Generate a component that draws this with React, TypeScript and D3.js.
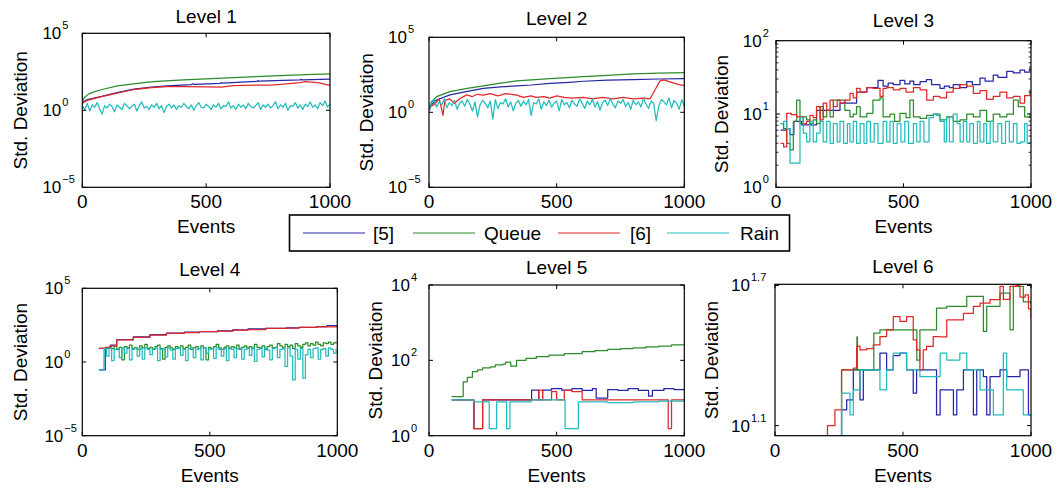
import React from 'react';
import * as d3 from 'd3';

// ---------- series identity ----------
const SERIES_NAMES = ['[5]', 'Queue', '[6]', 'Rain'];
const SERIES_COLORS = ['#2626a6', '#2a8c2a', '#e02828', '#22bcbc'];
const X_TICKS = [0, 500, 1000];

// ---------- Level 1 (values are log10 of std. deviation) ----------
const l1_b_x = [0, 20, 74, 140, 208, 280, 342, 440, 445, 450, 557, 560, 565, 705, 708, 712, 879, 882, 886, 1000];
const l1_b_e = [0.5, 0.7, 0.89, 1.15, 1.37, 1.5, 1.58, 1.66, 1.72, 1.68, 1.75, 1.8, 1.76, 1.88, 1.93, 1.89, 1.97, 2.02, 1.98, 2.03];
const l1_q_x = [0, 10, 25, 47, 80, 141, 200, 248, 300, 409, 500, 611, 700, 772, 850, 930, 1000];
const l1_q_e = [0.6, 0.85, 1.05, 1.2, 1.35, 1.58, 1.7, 1.8, 1.88, 1.97, 2.04, 2.12, 2.18, 2.23, 2.28, 2.33, 2.36];
const l1_r_x = [0, 20, 74, 140, 208, 280, 342, 409, 500, 560, 611, 700, 760, 800, 879, 900, 950, 1000];
const l1_r_e = [0.45, 0.65, 0.87, 1.12, 1.35, 1.48, 1.53, 1.53, 1.52, 1.5, 1.6, 1.63, 1.64, 1.68, 1.8, 1.86, 1.8, 1.62];
const l1_c_e = [
  0.30, 0.05, 0.45, -0.05, 0.35, 0.20, 0.50, 0.10, -0.25, 0.30,
  0.15, 0.40, 0.25, -0.10, 0.35, 0.20, 0.05, 0.45, 0.30, 0.10,
  0.25, 0.40, -0.05, 0.30, 0.55, 0.15, 0.25, 0.05, 0.35, 0.20,
  0.45, 0.10, 0.30, -0.15, 0.25, 0.40, 0.15, 0.35, 0.05, 0.30,
  0.20, 0.45, 0.25, 0.10, 0.35, 0.00, 0.30, 0.50, 0.20, 0.15,
  0.40, 0.25, 0.05, 0.35, 0.20, 0.45, 0.10, 0.30, 0.25, 0.55,
  0.15, 0.30, 0.05, 0.40, 0.20, 0.35, 0.10, 0.45, 0.25, 0.15,
  0.30, 0.50, 0.05, 0.35, 0.20, 0.40, 0.15, 0.30, 0.55, 0.10,
  0.35, 0.20, 0.45, 0.00, 0.30, 0.25, 0.50, 0.15, 0.35, 0.05,
  0.40, 0.25, 0.55, 0.20, 0.35, 0.10, 0.50, 0.30, 0.60, 0.20, 0.40,
];
const l1_c_x = l1_c_e.map((_, i) => i * 10);

// ---------- Level 2 ----------
const l2_b_x = [0, 10, 30, 82, 150, 213, 280, 343, 400, 474, 550, 604, 700, 800, 900, 1000];
const l2_b_e = [0.1, 0.5, 0.82, 1.16, 1.4, 1.6, 1.7, 1.76, 1.82, 1.93, 2.0, 2.07, 2.14, 2.18, 2.22, 2.24];
const l2_q_x = [0, 10, 30, 82, 150, 213, 280, 343, 474, 604, 700, 800, 900, 1000];
const l2_q_e = [0.3, 0.7, 1.04, 1.38, 1.6, 1.76, 1.95, 2.09, 2.24, 2.38, 2.46, 2.56, 2.61, 2.64];
const l2_r_x = [0, 20, 40, 55, 62, 80, 100, 120, 148, 170, 190, 213, 240, 270, 300, 343, 370, 400, 420, 450, 474, 500, 530, 560, 604, 640, 680, 720, 760, 800, 839, 866, 905, 920, 950, 980, 1000];
const l2_r_e = [0.4, 0.5, 0.9, -0.2, 0.8, 0.9, 0.6, 0.9, 1.16, 1.05, 1.2, 1.15, 1.25, 1.1, 1.25, 1.15, 1.0, 1.1, 1.0, 1.05, 0.95, 1.1, 1.0, 0.95, 1.0, 0.9, 1.0, 0.9, 1.0, 0.9, 0.95, 0.9, 2.1, 2.16, 2.0, 1.85, 1.78];
const l2_c_e = [
  0.16, 0.60, 0.85, 0.35, 0.70, 0.50, 0.90, 0.30, 0.65, 0.45,
  0.80, 0.20, 0.60, 0.75, 0.40, 0.85, 0.55, 0.10, 0.70, -0.30,
  0.50, 0.80, 0.60, 0.30, 0.75, -0.45, 0.85, 0.25, 0.65, 0.55,
  0.90, 0.35, 0.70, 0.10, 0.60, 0.80, 0.40, 0.75, 0.50, 0.85,
  -0.20, 0.65, 0.55, 0.90, 0.20, 0.70, 0.45, 0.80, 0.35, 0.60,
  0.75, 0.10, 0.85, 0.50, 0.65, 0.30, 0.80, 0.55, 0.40, 0.90,
  0.60, 0.25, 0.75, 0.50, 0.85, 0.35, 0.70, 0.15, 0.65, 0.80,
  0.45, 0.90, 0.55, 0.30, 0.75, 0.60, 0.85, 0.40, 0.65, 0.20,
  0.80, 0.50, 0.70, 0.35, 0.90, 0.55, 0.25, 0.75, 0.60, -0.55,
  0.40, 0.85, 0.70, 0.50, 0.95, 0.30, 0.80, 0.60, 0.20, 0.85, 0.40,
];
const l2_c_x = l2_c_e.map((_, i) => i * 10);

// ---------- Level 3 ----------
const l3_b_x = [18, 40, 55, 70, 100, 159, 199, 251, 316, 356, 400, 420, 440, 460, 486, 505, 525, 540, 565, 590, 610, 643, 660, 680, 695, 720, 748, 770, 800, 820, 852, 870, 905, 930, 957, 975, 996];
const l3_b_e = [0.78, 0.8, 0.72, 0.9, 0.85, 1.05, 1.05, 1.15, 1.3, 1.36, 1.46, 1.38, 1.42, 1.4, 1.46, 1.41, 1.45, 1.4, 1.44, 1.47, 1.4, 1.35, 1.38, 1.36, 1.4, 1.36, 1.44, 1.4, 1.49, 1.45, 1.53, 1.5, 1.58, 1.56, 1.6, 1.57, 1.65];
const l3_q_x = [18, 30, 42, 55, 68, 81, 94, 107, 120, 133, 146, 159, 173, 185, 199, 212, 225, 251, 270, 290, 303, 316, 330, 356, 380, 408, 420, 447, 465, 486, 510, 525, 539, 565, 591, 617, 643, 669, 695, 722, 748, 774, 800, 826, 852, 878, 905, 931, 950, 975, 996];
const l3_q_e = [0.87, 0.8, 0.6, 0.51, 0.9, 1.19, 0.87, 0.96, 0.92, 0.87, 0.92, 0.87, 1.1, 0.96, 1.05, 0.96, 1.19, 1.19, 1.05, 0.96, 1.0, 1.1, 0.96, 1.01, 1.19, 1.22, 0.96, 1.0, 0.9, 1.01, 0.95, 1.19, 0.96, 0.94, 0.98, 1.0, 0.92, 0.96, 0.9, 0.92, 1.0, 0.96, 1.05, 0.9, 1.0, 0.96, 1.0, 1.19, 1.1, 0.96, 1.01];
const l3_r_x = [18, 30, 42, 60, 81, 94, 107, 120, 133, 146, 159, 173, 185, 199, 212, 225, 240, 251, 270, 290, 303, 316, 330, 356, 380, 408, 420, 434, 460, 486, 510, 539, 565, 591, 617, 643, 669, 695, 722, 748, 774, 800, 826, 852, 878, 905, 931, 957, 975, 996];
const l3_r_e = [0.6, 0.55, 1.01, 0.99, 0.96, 0.96, 0.87, 0.9, 0.98, 0.95, 1.1, 0.92, 1.15, 1.05, 1.19, 1.1, 1.19, 1.15, 1.19, 1.28, 1.22, 1.35, 1.3, 1.36, 1.35, 1.24, 1.35, 1.36, 1.33, 1.35, 1.3, 1.36, 1.33, 1.19, 1.24, 1.22, 1.3, 1.35, 1.4, 1.38, 1.28, 1.32, 1.2, 1.24, 1.3, 1.22, 1.24, 1.15, 1.25, 1.33];
const l3_c_x = [18, 30, 42, 55, 70, 81, 94, 107, 120, 133, 146, 159, 173, 185, 199, 212, 225, 240, 251, 265, 280, 290, 303, 316, 330, 345, 356, 370, 385, 400, 420, 434, 447, 460, 475, 490, 505, 520, 539, 552, 565, 580, 600, 617, 630, 643, 660, 669, 680, 695, 710, 722, 735, 748, 760, 774, 790, 800, 815, 826, 840, 852, 870, 885, 900, 915, 931, 945, 960, 975, 985, 996];
const l3_c_e = [0.87, 0.9, 0.8, 0.33, 0.33, 0.33, 0.95, 0.74, 0.62, 0.9, 0.62, 0.74, 0.9, 0.62, 0.9, 0.6, 0.87, 0.62, 0.9, 0.6, 0.87, 0.62, 0.9, 0.6, 0.87, 0.6, 0.9, 0.62, 0.87, 0.6, 0.9, 0.62, 0.9, 0.6, 0.87, 0.62, 0.9, 0.6, 0.87, 0.62, 0.9, 0.62, 0.95, 1.0, 0.98, 0.9, 0.62, 0.95, 0.62, 1.0, 0.87, 0.62, 0.9, 0.62, 0.87, 0.6, 0.9, 0.62, 0.87, 0.6, 0.9, 0.62, 0.87, 0.6, 0.9, 0.62, 0.87, 0.6, 0.62, 0.87, 0.6, 0.62];

// ---------- Level 4 ----------
const l4_b_x = [65, 80, 90, 110, 135, 200, 265, 330, 400, 460, 530, 590, 650, 720, 800, 850, 920, 960, 1000];
const l4_b_e = [-0.54, -0.54, 0.93, 1.15, 1.52, 1.7, 1.85, 1.96, 2.02, 2.06, 2.12, 2.18, 2.25, 2.28, 2.32, 2.35, 2.4, 2.46, 2.44];
const l4_r_x = [65, 90, 110, 135, 200, 265, 330, 400, 460, 530, 590, 650, 720, 800, 850, 920, 1000];
const l4_r_e = [0.93, 1.0, 1.1, 1.5, 1.67, 1.83, 1.95, 2.0, 2.06, 2.1, 2.17, 2.2, 2.28, 2.3, 2.35, 2.38, 2.44];
const l4_q_e = [
  0.93, 0.93, 0.93, 0.93, 1.05, 0.90, 1.10, 0.85, 1.00, 0.15,
  1.05, 0.95, 1.15, 0.90, 1.00, 0.85, 1.10, 0.95, 1.20, 0.90,
  1.00, 0.85, 1.05, 1.15, 0.90, 0.20, 1.00, 1.10, 0.95, 0.85,
  1.05, 0.95, 1.10, 0.90, 1.00, 1.15, 0.85, 0.95, 1.05, 0.90,
  1.10, 0.95, 0.15, 1.00, 0.90, 1.05, 1.20, 0.95, 0.85, 1.00,
  1.10, 0.90, 1.05, 0.95, 1.15, 0.85, 1.00, 1.10, 0.95, 1.05,
  0.90, 1.20, 1.00, 0.95, 1.10, 0.85, 1.05, 1.15, 0.95, 1.00,
  1.25, 1.10, 0.95, 1.20, 1.05, 1.15, 0.90, 1.25, 1.10, 1.00,
  1.20, 1.30, 1.10, 1.25, 1.15, 1.35, 1.20, 1.10, 1.30, 1.25,
  1.35, 1.20, 1.30, 1.38,
];
const l4_q_x = l4_q_e.map((_, i) => 65 + i * 10);
const l4_c_e = [
  -0.54, -0.54, 0.90, 0.40, 0.95, 0.10, 0.85, 0.90, 0.30, 0.95,
  0.60, 0.90, 0.15, 0.85, 0.95, 0.40, 0.90, 0.20, 0.95, 0.85,
  0.50, 0.90, 0.95, 0.10, 0.85, 0.90, 0.35, 0.95, 0.80, 0.20,
  0.90, 0.95, 0.45, 0.85, 0.10, 0.90, 0.95, 0.30, 0.85, 0.90,
  0.15, 0.95, 0.60, 0.85, 0.90, 0.25, 0.95, 0.85, 0.40, 0.90,
  0.10, 0.95, 0.85, 0.30, 0.90, 0.95, 0.20, 0.85, 0.90, 0.45,
  0.95, 0.05, 0.85, 0.90, 0.35, 0.95, 0.80, 0.15, 0.90, 0.95,
  0.30, 0.85, 0.90, -0.30, 0.95, 0.40, -1.22, 0.85, 0.20, 0.90,
  -1.10, 0.50, 0.85, 0.30, 0.90, 0.95, 0.20, 0.85, 0.90, 0.40,
  0.95, 0.85, 0.60, 0.90,
];
const l4_c_x = l4_c_e.map((_, i) => 65 + i * 10);

// ---------- Level 5 ----------
const l5_b_x = [89, 170, 176, 200, 210, 400, 402, 420, 430, 445, 480, 520, 530, 560, 600, 640, 655, 700, 740, 780, 820, 860, 875, 920, 960, 1000];
const l5_b_e = [0.95, 0.95, 0.19, 0.19, 0.95, 0.95, 1.21, 1.21, 0.95, 1.21, 1.25, 1.21, 1.21, 1.25, 1.2, 1.25, 1.0, 1.22, 1.2, 1.25, 1.2, 1.05, 1.2, 1.25, 1.22, 1.26];
const l5_q_x = [89, 132, 134, 150, 170, 190, 210, 240, 260, 290, 300, 320, 343, 380, 420, 470, 530, 600, 650, 700, 750, 800, 850, 900, 950, 1000];
const l5_q_e = [1.04, 1.04, 1.43, 1.55, 1.7, 1.75, 1.8, 1.83, 1.88, 1.9, 1.95, 1.85, 2.0, 2.05, 2.1, 2.14, 2.18, 2.23, 2.26, 2.29, 2.31, 2.33, 2.36, 2.38, 2.41, 2.42];
const l5_r_x = [89, 176, 210, 300, 400, 430, 445, 480, 500, 530, 560, 600, 620, 900, 937, 950, 1000];
const l5_r_e = [0.95, 0.19, 0.95, 0.95, 0.95, 1.21, 0.95, 1.17, 0.95, 1.2, 1.17, 0.95, 0.95, 0.95, 0.19, 0.95, 0.95];
const l5_c_x = [89, 175, 236, 265, 304, 317, 400, 533, 585, 650, 700, 800, 900, 1000];
const l5_c_e = [0.95, 0.9, 0.19, 0.9, 0.19, 0.9, 0.95, 0.19, 0.9, 0.9, 0.88, 0.9, 0.92, 0.99];

// ---------- Level 6 ----------
const l6_b_x = [250, 260, 280, 306, 332, 345, 384, 410, 436, 462, 488, 514, 540, 553, 592, 631, 645, 671, 697, 710, 736, 775, 788, 814, 827, 840, 879, 905, 957, 990, 1000];
const l6_b_e = [1.0, 1.167, 1.21, 1.339, 1.21, 1.339, 1.339, 1.41, 1.339, 1.4, 1.41, 1.339, 1.239, 1.339, 1.339, 1.146, 1.253, 1.253, 1.146, 1.253, 1.339, 1.146, 1.339, 1.31, 1.146, 1.31, 1.339, 1.31, 1.339, 1.146, 1.146];
const l6_q_x = [240, 260, 319, 320, 322, 384, 386, 410, 436, 488, 553, 554, 566, 592, 631, 671, 697, 749, 801, 814, 827, 879, 905, 918, 931, 957, 970, 1000];
const l6_q_e = [1.0, 1.339, 1.339, 1.48, 1.339, 1.339, 1.496, 1.51, 1.51, 1.51, 1.51, 1.38, 1.51, 1.51, 1.603, 1.61, 1.61, 1.653, 1.653, 1.503, 1.61, 1.667, 1.667, 1.51, 1.696, 1.696, 1.63, 1.62];
const l6_r_x = [195, 205, 234, 260, 306, 319, 332, 358, 384, 410, 436, 462, 488, 514, 540, 553, 566, 579, 592, 618, 645, 671, 697, 736, 775, 801, 840, 879, 892, 918, 944, 957, 977, 990, 1000];
const l6_r_e = [1.0, 1.1, 1.167, 1.339, 1.346, 1.44, 1.424, 1.43, 1.446, 1.481, 1.51, 1.567, 1.546, 1.567, 1.467, 1.424, 1.339, 1.424, 1.439, 1.481, 1.48, 1.553, 1.553, 1.581, 1.61, 1.624, 1.639, 1.696, 1.64, 1.696, 1.7, 1.65, 1.66, 1.6, 1.56];
const l6_c_x = [254, 260, 293, 306, 332, 384, 410, 436, 462, 488, 514, 566, 618, 645, 671, 697, 722, 749, 775, 801, 840, 853, 879, 892, 905, 944, 970, 1000];
const l6_c_e = [1.0, 1.239, 1.146, 1.253, 1.339, 1.339, 1.253, 1.339, 1.41, 1.41, 1.339, 1.31, 1.31, 1.41, 1.38, 1.381, 1.41, 1.339, 1.339, 1.253, 1.253, 1.146, 1.146, 1.41, 1.253, 1.253, 1.146, 1.146];

// ---------- layout ----------
type S = { x: number[]; e: number[] };
type PanelCfg = {
  title: string; left: number; right: number; top: number; bottom: number;
  yExp: [number, number]; yTicks: number[]; minor: boolean; step: boolean;
  titleY: number; ylabDx: number; tickGap: number; showXLabel: boolean; series: S[];
};

const PANELS: PanelCfg[] = [
  { title: 'Level 1', left: 82.3, right: 330, top: 33.3, bottom: 187.3, yExp: [-5, 5], yTicks: [-5, 0, 5], minor: false, step: false, titleY: 22.7, ylabDx: -55.5, tickGap: 21, showXLabel: true,
    series: [{ x: l1_b_x, e: l1_b_e }, { x: l1_q_x, e: l1_q_e }, { x: l1_r_x, e: l1_r_e }, { x: l1_c_x, e: l1_c_e }] },
  { title: 'Level 2', left: 429, right: 684.3, top: 37.3, bottom: 187.3, yExp: [-5, 5], yTicks: [-5, 0, 5], minor: false, step: false, titleY: 25, ylabDx: -55.7, tickGap: 22, showXLabel: false,
    series: [{ x: l2_b_x, e: l2_b_e }, { x: l2_q_x, e: l2_q_e }, { x: l2_r_x, e: l2_r_e }, { x: l2_c_x, e: l2_c_e }] },
  { title: 'Level 3', left: 776, right: 1031, top: 40.7, bottom: 187.3, yExp: [0, 2], yTicks: [0, 1, 2], minor: true, step: true, titleY: 27.3, ylabDx: -48, tickGap: 14.3, showXLabel: true,
    series: [{ x: l3_b_x, e: l3_b_e }, { x: l3_q_x, e: l3_q_e }, { x: l3_r_x, e: l3_r_e }, { x: l3_c_x, e: l3_c_e }] },
  { title: 'Level 4', left: 82.3, right: 337.3, top: 288.3, bottom: 435.7, yExp: [-5, 5], yTicks: [-5, 0, 5], minor: false, step: true, titleY: 276, ylabDx: -55.6, tickGap: 19, showXLabel: true,
    series: [{ x: l4_b_x, e: l4_b_e }, { x: l4_q_x, e: l4_q_e }, { x: l4_r_x, e: l4_r_e }, { x: l4_c_x, e: l4_c_e }] },
  { title: 'Level 5', left: 429, right: 684.3, top: 285, bottom: 435.7, yExp: [0, 4], yTicks: [0, 2, 4], minor: false, step: true, titleY: 274, ylabDx: -47, tickGap: 19, showXLabel: true,
    series: [{ x: l5_b_x, e: l5_b_e }, { x: l5_q_x, e: l5_q_e }, { x: l5_r_x, e: l5_r_e }, { x: l5_c_x, e: l5_c_e }] },
  { title: 'Level 6', left: 775, right: 1031, top: 284.3, bottom: 435.7, yExp: [1.057, 1.705], yTicks: [1.1, 1.7], minor: false, step: true, titleY: 273.3, ylabDx: -57, tickGap: 25, showXLabel: true,
    series: [{ x: l6_b_x, e: l6_b_e }, { x: l6_q_x, e: l6_q_e }, { x: l6_r_x, e: l6_r_e }, { x: l6_c_x, e: l6_c_e }] },
];

const FONT = '"Liberation Sans", Arial, Helvetica, sans-serif';

function expLabel(v: number): string {
  const s = Number.isInteger(v) ? String(v) : v.toFixed(1);
  return s.replace('-', '\u2212');
}

function Panel({ cfg, idx }: { cfg: PanelCfg; idx: number }) {
  const x = d3.scaleLinear().domain([0, 1000]).range([cfg.left, cfg.right]);
  const y = d3.scaleLog().domain([Math.pow(10, cfg.yExp[0]), Math.pow(10, cfg.yExp[1])]).range([cfg.bottom, cfg.top]);
  const line = d3.line<[number, number]>()
    .x((d) => x(d[0]))
    .y((d) => y(Math.pow(10, d[1])))
    .curve(cfg.step ? d3.curveStepAfter : d3.curveLinear);
  const clipId = `clip-${idx}`;
  const tl = 4;
  const minorTicks: number[] = [];
  if (cfg.minor) {
    for (let d = cfg.yExp[0]; d < cfg.yExp[1]; d++) {
      for (let m = 2; m <= 9; m++) minorTicks.push(m * Math.pow(10, d));
    }
  }
  const w = cfg.right - cfg.left;
  const h = cfg.bottom - cfg.top;
  const cx = (cfg.left + cfg.right) / 2;
  const cy = (cfg.top + cfg.bottom) / 2;
  return (
    <g>
      <defs>
        <clipPath id={clipId}>
          <rect x={cfg.left} y={cfg.top} width={w} height={h} />
        </clipPath>
      </defs>
      <rect x={cfg.left} y={cfg.top} width={w} height={h} fill="#fff" />
      <g clipPath={`url(#${clipId})`}>
        {cfg.series.map((s, i) => (
          <path
            key={i}
            d={line(s.x.map((xv, j) => [xv, s.e[j]] as [number, number])) || ''}
            fill="none"
            stroke={SERIES_COLORS[i]}
            strokeWidth={1.25}
            strokeLinejoin="round"
          />
        ))}
      </g>
      {X_TICKS.map((t) => (
        <g key={`xt${t}`}>
          <line x1={x(t)} x2={x(t)} y1={cfg.bottom} y2={cfg.bottom - tl} stroke="#000" />
          <line x1={x(t)} x2={x(t)} y1={cfg.top} y2={cfg.top + tl} stroke="#000" />
          <text x={x(t)} y={cfg.bottom + 21} textAnchor="middle" fontSize={19} fontFamily={FONT}>{t}</text>
        </g>
      ))}
      {cfg.yTicks.map((t) => {
        const yy = y(Math.pow(10, t));
        const bx = cfg.left - cfg.tickGap;
        return (
          <g key={`yt${t}`}>
            <line x1={cfg.left} x2={cfg.left + tl} y1={yy} y2={yy} stroke="#000" />
            <line x1={cfg.right} x2={cfg.right - tl} y1={yy} y2={yy} stroke="#000" />
            <text x={bx} y={yy + 6} textAnchor="end" fontSize={17} fontFamily={FONT}>10</text>
            <text x={bx + 1} y={yy - 4} textAnchor="start" fontSize={11} fontFamily={FONT}>{expLabel(t)}</text>
          </g>
        );
      })}
      {minorTicks.map((m, i) => (
        <g key={`mt${i}`}>
          <line x1={cfg.left} x2={cfg.left + 2.5} y1={y(m)} y2={y(m)} stroke="#000" strokeWidth={0.8} />
          <line x1={cfg.right} x2={cfg.right - 2.5} y1={y(m)} y2={y(m)} stroke="#000" strokeWidth={0.8} />
        </g>
      ))}
      <rect x={cfg.left} y={cfg.top} width={w} height={h} fill="none" stroke="#000" strokeWidth={1.2} />
      <text x={cx} y={cfg.titleY} textAnchor="middle" fontSize={19} fontFamily={FONT}>{cfg.title}</text>
      {cfg.showXLabel && (
        <text x={cx} y={cfg.bottom + 46} textAnchor="middle" fontSize={19} fontFamily={FONT}>Events</text>
      )}
      <text
        transform={`translate(${cfg.left + cfg.ylabDx},${cy}) rotate(-90)`}
        textAnchor="middle"
        fontSize={19}
        fontFamily={FONT}
      >Std. Deviation</text>
    </g>
  );
}

const LEGEND_LINE_X = [303, 413, 558, 667];
const LEGEND_TEXT_X = [373, 484, 630, 740];

function Legend() {
  return (
    <g>
      <rect x={289.5} y={215} width={500} height={36} fill="#fff" stroke="#000" strokeWidth={1.6} />
      {SERIES_NAMES.map((n, i) => (
        <g key={n}>
          <line x1={LEGEND_LINE_X[i]} x2={LEGEND_LINE_X[i] + 62} y1={233} y2={233} stroke={SERIES_COLORS[i]} strokeWidth={1} />
          <text x={LEGEND_TEXT_X[i]} y={240} fontSize={19} fontFamily={FONT}>{n}</text>
        </g>
      ))}
    </g>
  );
}

export default function App() {
  return (
    <svg width={1058} height={489} style={{ position: 'absolute', left: 0, top: 0, background: '#fff' }}>
      <rect x={0} y={0} width={1058} height={489} fill="#fff" />
      {PANELS.map((p, i) => (
        <Panel key={p.title} cfg={p} idx={i} />
      ))}
      <Legend />
    </svg>
  );
}
